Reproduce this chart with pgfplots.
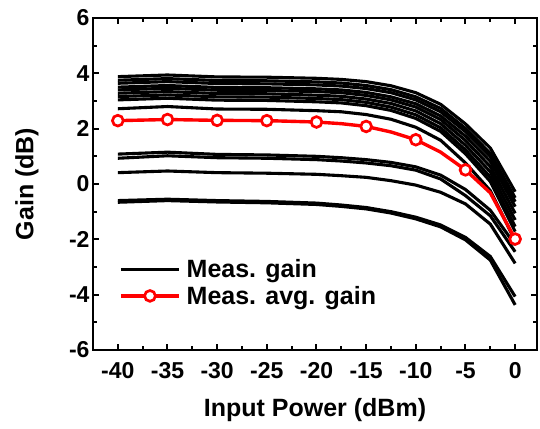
\documentclass[border=0pt]{standalone}
\usepackage{fontspec}
\setmainfont{Liberation Sans}
\usepackage{pgfplots}
\usepackage{pgfplotstable}
\pgfplotsset{compat=1.18}
\pgfplotstableread{
x     C1    C2    C3    C4    C5    C6    C7    C8    C9    L1    L2    L3    L4    L5    R
-40   3.88  3.75  3.64  3.50  3.40  3.28  3.16  3.04  2.72  1.08  0.93  0.41  -0.60 -0.66 2.29
-35   3.94  3.81  3.70  3.56  3.46  3.34  3.22  3.10  2.80  1.15  1.02  0.47  -0.55 -0.60 2.33
-30   3.87  3.74  3.63  3.49  3.39  3.27  3.15  3.03  2.71  1.07  0.95  0.41  -0.60 -0.65 2.30
-25   3.86  3.73  3.62  3.48  3.38  3.26  3.14  3.02  2.70  1.05  0.93  0.39  -0.63 -0.68 2.29
-20   3.82  3.69  3.58  3.44  3.34  3.21  3.09  2.97  2.65  1.00  0.88  0.35  -0.69 -0.74 2.24
-17.5 3.78  3.65  3.54  3.40  3.30  3.17  3.05  2.93  2.61  0.95  0.83  0.30  -0.76 -0.81 2.18
-15   3.70  3.56  3.45  3.31  3.20  3.07  2.95  2.83  2.51  0.88  0.76  0.24  -0.85 -0.90 2.08
-12.5 3.55  3.41  3.30  3.15  3.04  2.91  2.78  2.66  2.34  0.78  0.66  0.12  -1.00 -1.05 1.88
-10   3.30  3.15  3.04  2.90  2.78  2.64  2.50  2.37  2.05  0.62  0.50  -0.04 -1.20 -1.26 1.60
-7.5  2.88  2.73  2.61  2.46  2.33  2.18  2.03  1.90  1.58  0.32  0.18  -0.30 -1.48 -1.55 1.15
-5    2.17  2.01  1.89  1.73  1.57  1.40  1.23  1.09  0.76  -0.20 -0.42 -0.72 -1.93 -2.02 0.51
-2.5  1.30  1.11  0.99  0.82  0.63  0.44  0.25  0.09  -0.24 -0.95 -1.15 -1.45 -2.62 -2.75 -0.32
0     -0.28 -0.50 -0.64 -0.82 -1.06 -1.30 -1.54 -1.72 -2.05 -2.20 -2.45 -2.87 -4.07 -4.37 -1.99
}\gaindata
\begin{document}
\begin{tikzpicture}
\useasboundingbox (-93pt,-78pt) rectangle (447pt,350pt);
\begin{axis}[
  at={(0,0)}, anchor=south west,
  scale only axis, width=444pt, height=332pt,
  xmin=-42.5, xmax=2.2, ymin=-6, ymax=6,
  xtick={-40,-35,...,0}, ytick={-6,-4,...,6},
  minor x tick num=1, minor y tick num=1,
  tick align=inside, tick pos=both,
  major tick length=6pt, minor tick length=4pt,
  tick style={black, line width=2pt},
  axis line style={line width=2.6pt},
  /pgf/number format/assume math mode=true,
  ticklabel style={font=\fontsize{23}{27}\selectfont\bfseries},
  xticklabel style={yshift=-9pt},
  xlabel={Input Power (dBm)}, ylabel={Gain (dB)},
  label style={font=\fontsize{25}{30}\selectfont\bfseries},
  xlabel style={at={(axis description cs:0.5,-0.181)}, anchor=center},
  ylabel style={at={(axis description cs:-0.149,0.5)}, anchor=center},
  legend style={draw=none, fill=none, at={(axis description cs:0.052,0.203)}, anchor=west,
    font=\fontsize{25}{30}\selectfont\bfseries, row sep=3pt, column sep=4pt},
  legend cell align=left,
  legend image code/.code={\draw[mark repeat=2,mark phase=2,#1] plot coordinates {(0pt,0pt) (29pt,0pt) (58pt,0pt)};},
]
\addplot[black, line width=3.1pt] table[y=C1] {\gaindata};
\addlegendentry{Meas. gain}
\addplot[black, line width=3.1pt, forget plot] table[y=C2] {\gaindata};
\addplot[black, line width=3.1pt, forget plot] table[y=C3] {\gaindata};
\addplot[black, line width=3.1pt, forget plot] table[y=C4] {\gaindata};
\addplot[black, line width=3.1pt, forget plot] table[y=C5] {\gaindata};
\addplot[black, line width=3.1pt, forget plot] table[y=C6] {\gaindata};
\addplot[black, line width=3.1pt, forget plot] table[y=C7] {\gaindata};
\addplot[black, line width=3.1pt, forget plot] table[y=C8] {\gaindata};
\addplot[black, line width=3.1pt, forget plot] table[y=C9] {\gaindata};
\addplot[black, line width=3.1pt, forget plot] table[y=L1] {\gaindata};
\addplot[black, line width=3.1pt, forget plot] table[y=L2] {\gaindata};
\addplot[black, line width=3.1pt, forget plot] table[y=L3] {\gaindata};
\addplot[black, line width=3.1pt, forget plot] table[y=L4] {\gaindata};
\addplot[black, line width=3.1pt, forget plot] table[y=L5] {\gaindata};
\addplot[red, line width=3.4pt, forget plot] table[y=R] {\gaindata};
\addplot[only marks, forget plot, mark=*, mark size=5.4pt,
  mark options={fill=white, draw=red, line width=2.7pt},
  mark indices={1,2,3,4,5,7,9,11,13}] table[y=R] {\gaindata};
\addlegendimage{red, line width=3.4pt, mark=*, mark size=5.4pt, mark options={fill=white, draw=red, line width=2.7pt}}
\addlegendentry{Meas. avg. gain}
\end{axis}
\end{tikzpicture}
\end{document}
